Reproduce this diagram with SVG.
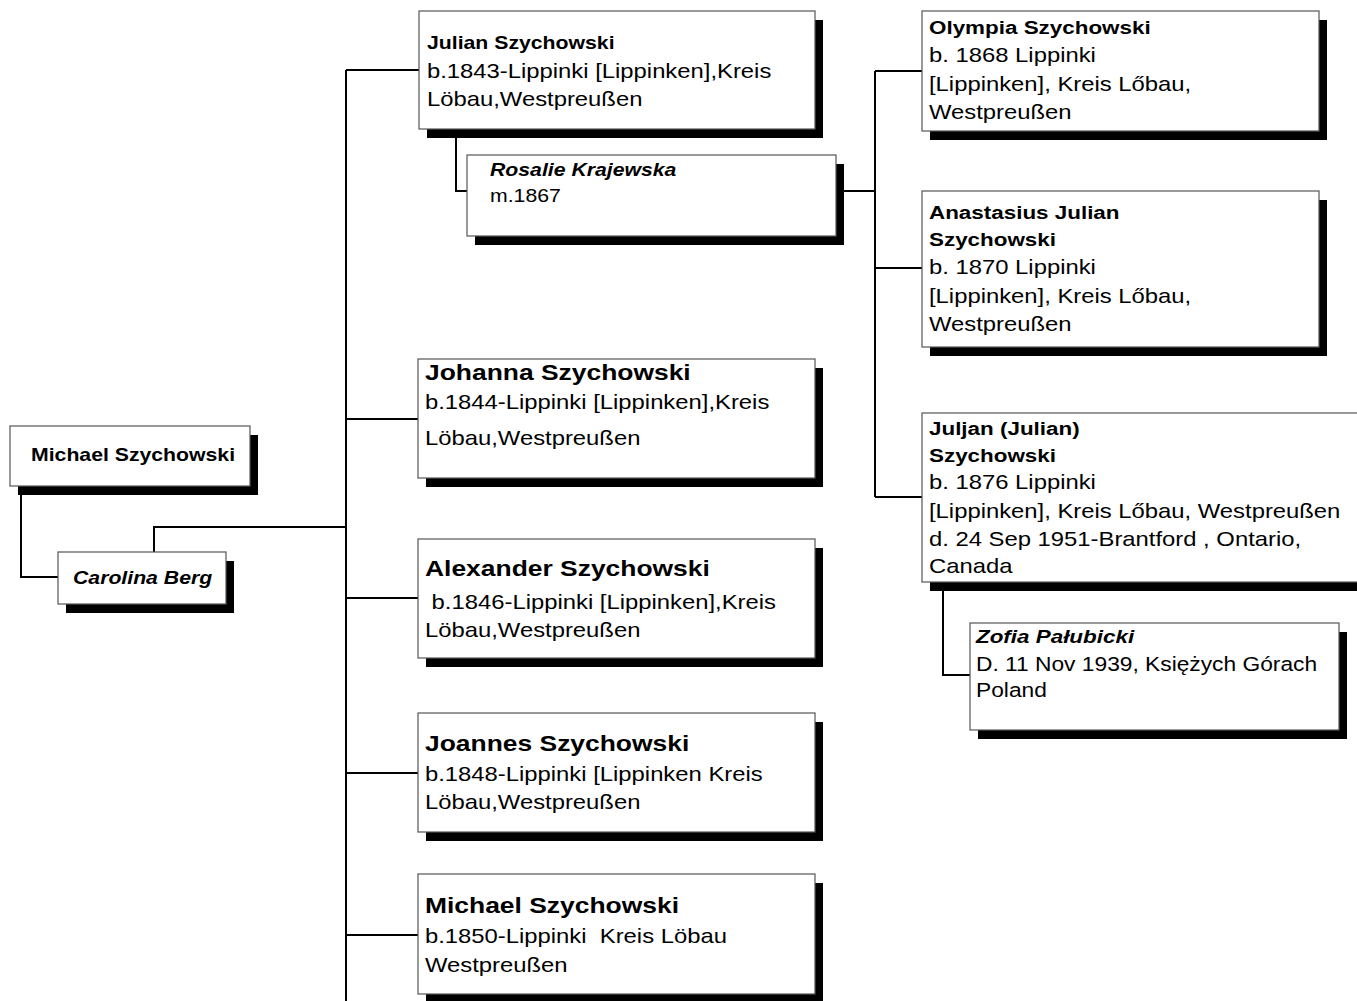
<svg xmlns="http://www.w3.org/2000/svg" width="1357" height="1001" viewBox="0 0 1357 1001">
<style>
.box{fill:#fff;stroke:#555;stroke-width:1.2}
.sh{fill:#000}
.conn{fill:none;stroke:#000;stroke-width:2}
text{font-family:"Liberation Sans",Arial,sans-serif;fill:#000}
.nm{font-weight:bold;font-size:18px}
.nm2{font-weight:bold;font-size:19px}
.ni{font-weight:bold;font-style:italic;font-size:18px}
.ni2{font-weight:bold;font-style:italic;font-size:19px}
.big{font-weight:bold;font-size:22.4px}
.dt{font-size:20.2px}
.dz{font-size:19.3px}
.sm{font-size:18px}
</style>
<rect width="1357" height="1001" fill="#fff"/>
<g id="connectors">
<path class="conn" d="M21,486V577H58"/>
<path class="conn" d="M154,552V527H346"/>
<path class="conn" d="M346,70V1001"/>
<path class="conn" d="M346,70H419M346,419H419M346,598H419M346,773H419M346,935H419"/>
<path class="conn" d="M456,129V191H467"/>
<path class="conn" d="M836,191H875"/>
<path class="conn" d="M875,71V497"/>
<path class="conn" d="M875,71H922M875,268H922M875,497H922"/>
<path class="conn" d="M943,582V675H970"/>
</g>
<g id="n-michael-root">
<rect class="sh" x="18" y="435" width="240" height="60"/>
<rect class="box" x="10" y="426" width="240" height="60"/>
<g transform="translate(31,0) scale(1.18,1)"><text class="nm" x="0" y="461">Michael Szychowski</text></g>
</g>
<g id="n-carolina">
<rect class="sh" x="66" y="561" width="168" height="52"/>
<rect class="box" x="58" y="552" width="168" height="52"/>
<g transform="translate(73,0) scale(1.18,1)"><text class="ni" x="0" y="584">Carolina Berg</text></g>
</g>
<g id="n-julian">
<rect class="sh" x="427" y="20" width="396" height="118"/>
<rect class="box" x="419" y="11" width="396" height="118"/>
<g transform="translate(427,0) scale(1.18,1)">
<text class="nm" x="0" y="49">Julian Szychowski</text>
<text class="dt" x="0" y="78">b.1843-Lippinki [Lippinken],Kreis</text>
<text class="dt" x="0" y="106">Löbau,Westpreußen</text>
</g>
</g>
<g id="n-rosalie">
<rect class="sh" x="475" y="164" width="369" height="81"/>
<rect class="box" x="467" y="155" width="369" height="81"/>
<g transform="translate(490,0) scale(1.18,1)">
<text class="ni" x="0" y="176">Rosalie Krajewska</text>
<text class="sm" x="0" y="202">m.1867</text>
</g>
</g>
<g id="n-olympia">
<rect class="sh" x="930" y="20" width="397" height="120"/>
<rect class="box" x="922" y="11" width="397" height="120"/>
<g transform="translate(929,0) scale(1.18,1)">
<text class="nm2" x="0" y="34">Olympia Szychowski</text>
<text class="dt" x="0" y="62">b. 1868 Lippinki</text>
<text class="dt" x="0" y="91">[Lippinken], Kreis Lőbau,</text>
<text class="dt" x="0" y="119">Westpreußen</text>
</g>
</g>
<g id="n-anastasius">
<rect class="sh" x="930" y="200" width="397" height="156"/>
<rect class="box" x="922" y="191" width="397" height="156"/>
<g transform="translate(929,0) scale(1.18,1)">
<text class="nm2" x="0" y="219">Anastasius Julian</text>
<text class="nm2" x="0" y="246">Szychowski</text>
<text class="dt" x="0" y="274">b. 1870 Lippinki</text>
<text class="dt" x="0" y="303">[Lippinken], Kreis Lőbau,</text>
<text class="dt" x="0" y="331">Westpreußen</text>
</g>
</g>
<g id="n-juljan">
<rect class="sh" x="930" y="422" width="440" height="169"/>
<rect class="box" x="922" y="413" width="440" height="169"/>
<g transform="translate(929,0) scale(1.18,1)">
<text class="nm2" x="0" y="435">Juljan (Julian)</text>
<text class="nm2" x="0" y="462">Szychowski</text>
<text class="dt" x="0" y="489">b. 1876 Lippinki</text>
<text class="dt" x="0" y="518">[Lippinken], Kreis Lőbau, Westpreußen</text>
<text class="dt" x="0" y="546">d. 24 Sep 1951-Brantford , Ontario,</text>
<text class="dt" x="0" y="573">Canada</text>
</g>
</g>
<g id="n-zofia">
<rect class="sh" x="978" y="632" width="369" height="107"/>
<rect class="box" x="970" y="623" width="369" height="107"/>
<g transform="translate(976,0) scale(1.18,1)">
<text class="ni2" x="0" y="643">Zofia Pałubicki</text>
<text class="dz" x="0" y="671">D. 11 Nov 1939, Księżych Górach</text>
<text class="dz" x="0" y="697">Poland</text>
</g>
</g>
<g id="n-johanna">
<rect class="sh" x="426" y="368" width="397" height="119"/>
<rect class="box" x="418" y="359" width="397" height="119"/>
<g transform="translate(425,0) scale(1.18,1)">
<text class="big" x="0" y="380">Johanna Szychowski</text>
<text class="dt" x="0" y="409">b.1844-Lippinki [Lippinken],Kreis</text>
<text class="dt" x="0" y="445">Löbau,Westpreußen</text>
</g>
</g>
<g id="n-alexander">
<rect class="sh" x="426" y="548" width="397" height="119"/>
<rect class="box" x="418" y="539" width="397" height="119"/>
<g transform="translate(425,0) scale(1.18,1)">
<text class="big" x="0" y="576">Alexander Szychowski</text>
<text class="dt" x="0" y="609" xml:space="preserve"> b.1846-Lippinki [Lippinken],Kreis</text>
<text class="dt" x="0" y="637">Löbau,Westpreußen</text>
</g>
</g>
<g id="n-joannes">
<rect class="sh" x="426" y="722" width="397" height="119"/>
<rect class="box" x="418" y="713" width="397" height="119"/>
<g transform="translate(425,0) scale(1.18,1)">
<text class="big" x="0" y="751">Joannes Szychowski</text>
<text class="dt" x="0" y="781">b.1848-Lippinki [Lippinken Kreis</text>
<text class="dt" x="0" y="809">Löbau,Westpreußen</text>
</g>
</g>
<g id="n-michael">
<rect class="sh" x="426" y="883" width="397" height="120"/>
<rect class="box" x="418" y="874" width="397" height="120"/>
<g transform="translate(425,0) scale(1.18,1)">
<text class="big" x="0" y="913">Michael Szychowski</text>
<text class="dt" x="0" y="943" xml:space="preserve">b.1850-Lippinki  Kreis Löbau</text>
<text class="dt" x="0" y="972">Westpreußen</text>
</g>
</g>
</svg>
